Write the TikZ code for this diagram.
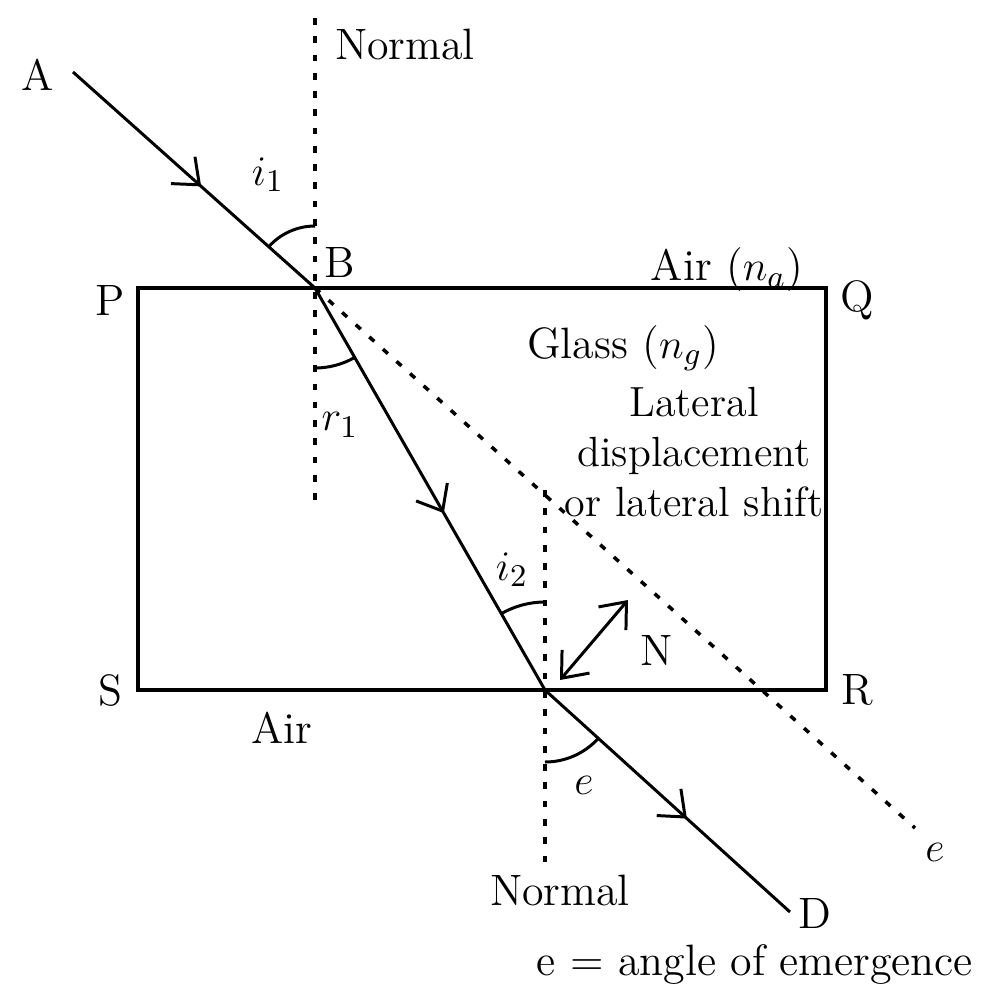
\documentclass[tikz,border=0pt]{standalone}
\usetikzlibrary{arrows.meta,decorations.markings}
\tikzset{
  ray/.style={line width=0.85pt},
  normalline/.style={line width=1pt, dash pattern=on 1.9pt off 3.3pt},
  midarrow/.style={postaction={decorate},
    decoration={markings, mark=at position #1 with {\arrow{Straight Barb[length=2.2mm,width=3.6mm,line width=0.85pt]}}}},
  lbl/.style={font=\fontsize{12.5}{14.5}\selectfont, inner sep=0pt}
}
\begin{document}
\begin{tikzpicture}[line width=0.85pt]
  \useasboundingbox (0,0) rectangle (9.92,-9.92);
  % points of the ray
  \coordinate (a) at (0.73,-0.72);
  \coordinate (B) at (3.15,-2.88);
  \coordinate (C) at (5.45,-6.90);
  \coordinate (D) at (7.90,-9.12);
  \coordinate (ext) at (9.15,-8.28);
  % glass slab
  \draw[line width=0.95pt] (1.38,-2.88) rectangle (8.26,-6.90);
  % normals
  \draw[normalline] (3.15,-0.18) -- (3.15,-5.10);
  \draw[normalline] (5.45,-4.90) -- (5.45,-8.65);
  % undeviated path
  \draw[normalline] (B) -- (ext);
  % ray
  \draw[ray, midarrow=0.53] (a) -- (B);
  \draw[ray, midarrow=0.56] (B) -- (C);
  \draw[ray, midarrow=0.58] (C) -- (D);
  % angles
  \draw (B) ++(90:0.62) arc (90:138.3:0.62);
  \draw (B) ++(-90:0.80) arc (-90:-60.2:0.80);
  \draw (C) ++(90:0.88) arc (90:119.8:0.88);
  \draw (C) ++(-90:0.72) arc (-90:-42.2:0.72);
  % lateral shift
  \coordinate (n1) at (5.60,-6.80);
  \coordinate (n2) at (6.28,-6.00);
  \draw[{Straight Barb[length=2.2mm,width=3.6mm]}-{Straight Barb[length=2.2mm,width=3.6mm]}] (n1) -- (n2);
  % labels
  \node[lbl] (Alab) at (0.38,-0.75) {A};
  \node[lbl] (Blab) at (3.40,-2.62) {B};
  \node[lbl] (Dlab) at (8.15,-9.13) {D};
  \node[lbl] (Plab) at (1.10,-3.00) {P};
  \node[lbl] (Qlab) at (8.57,-3.00) {Q};
  \node[lbl] (Slab) at (1.10,-6.90) {S};
  \node[lbl] (Rlab) at (8.57,-6.90) {R};
  \node[lbl] (Nlab) at (6.57,-6.50) {N};
  \node[lbl] (normtop) at (4.05,-0.44) {Normal};
  \node[lbl] (normbot) at (5.60,-8.90) {Normal};
  \node[lbl] (airtop) at (7.27,-2.70) {Air ($n_a$)};
  \node[lbl] (airbot) at (2.82,-7.28) {Air};
  \node[lbl] (glass) at (6.23,-3.48) {Glass ($n_g$)};
  \node[lbl, font=\fontsize{12}{14.2}\selectfont, align=center] (shift) at (6.94,-4.52) {Lateral\\displacement\\or lateral shift};
  \node[lbl] (i1) at (2.68,-1.75) {$i_1$};
  \node[lbl] (r1) at (3.40,-4.25) {$r_1$};
  \node[lbl] (i2) at (5.12,-5.70) {$i_2$};
  \node[lbl] (elab) at (5.84,-7.85) {$e$};
  \node[lbl] (eext) at (9.35,-8.52) {$e$};
  \node[lbl] (note) at (7.55,-9.65) {e = angle of emergence};
\end{tikzpicture}
\end{document}
